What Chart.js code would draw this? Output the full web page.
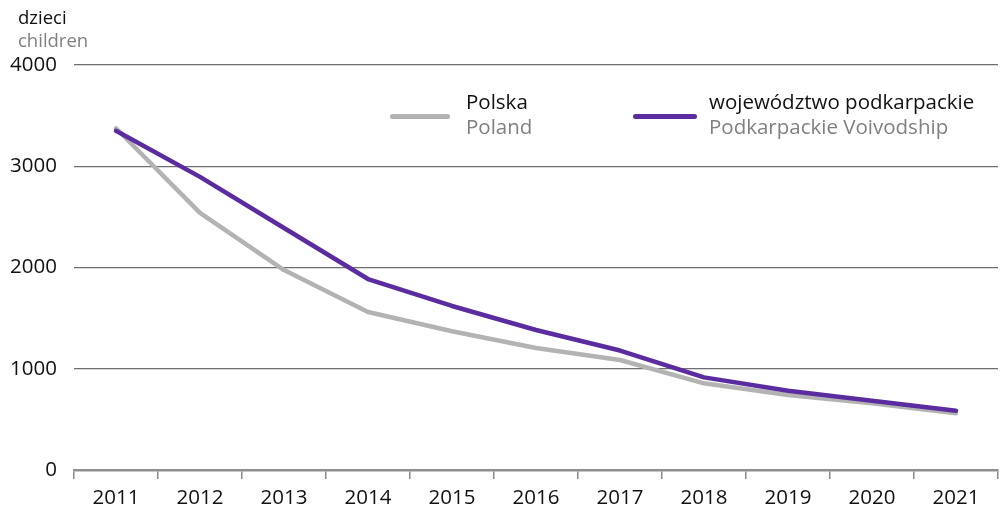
<!DOCTYPE html>
<html lang="pl">
<head>
<meta charset="utf-8">
<script src="https://cdn.jsdelivr.net/npm/chart.js@4.4.1/dist/chart.umd.min.js"></script>
<style>
  html, body { margin: 0; padding: 0; background: #ffffff; }
  #wrap { position: relative; width: 1000px; height: 511px; font-family: "Open Sans", sans-serif; }
  canvas { position: absolute; left: 0; top: 0; }
  .lbl { position: absolute; white-space: nowrap; line-height: 1; }
  .pl { color: #111111; }
  .en { color: #808080; }
  .swatch { position: absolute; height: 5px; border-radius: 3px; }
</style>
</head>
<body>
<div id="wrap">
  <canvas id="c" width="1000" height="511"></canvas>
  <div class="lbl pl" style="left:18px; top:8px; font-size:18.5px;">dzieci</div>
  <div class="lbl en" style="left:18px; top:31px; font-size:18.5px;">children</div>

  <div class="swatch" style="left:390px; top:114px; width:60px; background:#b3b3b3;"></div>
  <div class="lbl pl" style="left:466px; top:91px; font-size:20.5px;">Polska</div>
  <div class="lbl en" style="left:466px; top:116px; font-size:20.5px;">Poland</div>

  <div class="swatch" style="left:633px; top:114px; width:64px; background:#5b2c9f;"></div>
  <div class="lbl pl" style="left:709px; top:91px; font-size:20.5px;">województwo podkarpackie</div>
  <div class="lbl en" style="left:709px; top:116px; font-size:20.5px;">Podkarpackie Voivodship</div>
</div>
<script>
// Years on the horizontal axis
const years = ['2011', '2012', '2013', '2014', '2015', '2016', '2017', '2018', '2019', '2020', '2021'];
// Number of children – Poland
const polska = [3375, 2540, 1975, 1560, 1370, 1205, 1086, 856, 741, 659, 560];
// Number of children – Podkarpackie Voivodship
const podkarpackie = [3350, 2895, 2390, 1886, 1620, 1383, 1180, 915, 783, 684, 586];
// Value axis ticks
const yTicks = [0, 1000, 2000, 3000, 4000];

const tickFont = { family: '"Open Sans", sans-serif', size: 20.5 };

new Chart(document.getElementById('c'), {
  type: 'line',
  data: {
    labels: years,
    datasets: [
      {
        label: 'województwo podkarpackie',
        data: podkarpackie,
        borderColor: '#5b2c9f',
        borderWidth: 4.5,
        pointRadius: 0,
        tension: 0,
        borderCapStyle: 'round',
        borderJoinStyle: 'round',
        order: 0
      },
      {
        label: 'Polska',
        data: polska,
        borderColor: '#b3b3b3',
        borderWidth: 4.5,
        pointRadius: 0,
        tension: 0,
        borderCapStyle: 'round',
        borderJoinStyle: 'round',
        order: 1
      }
    ]
  },
  options: {
    responsive: false,
    animation: false,
    events: [],
    layout: { padding: { top: 65, right: 2, bottom: 0, left: 0 } },
    plugins: { legend: { display: false }, tooltip: { enabled: false } },
    scales: {
      x: {
        offset: true,
        grid: {
          offset: true,
          drawOnChartArea: false,
          drawTicks: true,
          tickLength: 9,
          color: '#8a8a8a',
          lineWidth: 1.5
        },
        border: { display: true, color: '#8f8f8f', width: 2.5 },
        ticks: { font: tickFont, color: '#111111', padding: 7, maxRotation: 0 },
        afterFit: (axis) => { axis.height = 41; }
      },
      y: {
        min: 0,
        max: 4000,
        afterBuildTicks: (axis) => { axis.ticks = yTicks.map(v => ({ value: v })); },
        grid: { drawTicks: false, color: '#6e6e6e', lineWidth: 1.2 },
        border: { display: false },
        ticks: {
          font: tickFont,
          color: '#111111',
          padding: 17,
          callback: (v) => String(v)
        },
        afterFit: (axis) => { axis.width = 74; }
      }
    }
  }
});
</script>
</body>
</html>
